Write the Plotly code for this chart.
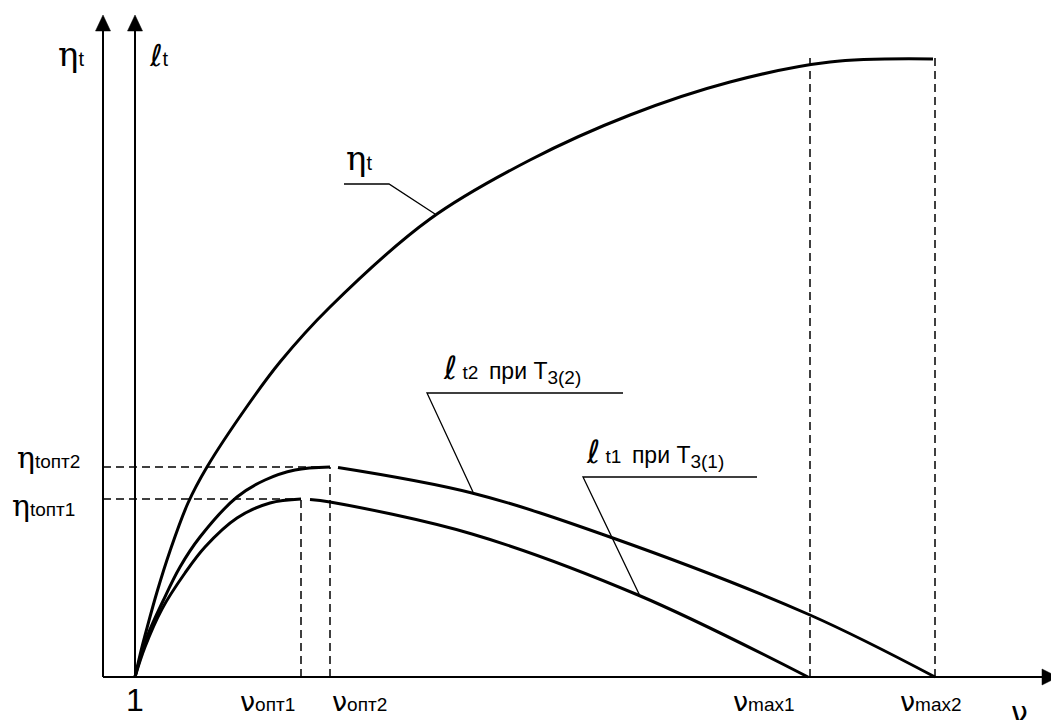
import plotly.graph_objects as go

# ---------------- data ----------------
v_eta = [1.00, 1.05, 1.12, 1.22, 1.35, 1.53, 1.72, 2.13, 2.45, 2.95, 3.95, 4.95, 5.95, 6.95, 7.95, 8.98]
eta_t = [0.00, 0.22, 0.49, 0.85, 1.26, 1.74, 2.10, 2.72, 3.15, 3.70, 4.58, 5.17, 5.62, 5.95, 6.15, 6.18]

v_l2 = [1.00, 1.12, 1.28, 1.45, 1.65, 2.02, 2.30, 2.60, 2.95, None, 3.03, 4.37, 5.75, 7.75, 9.00]
l_t2 = [0.00, 0.40, 0.76, 1.10, 1.40, 1.80, 1.97, 2.07, 2.10, None, 2.095, 1.84, 1.40, 0.62, 0.00]

v_l1 = [1.00, 1.10, 1.27, 1.50, 1.70, 2.02, 2.35, 2.66, None, 2.75, 2.95, 4.37, 6.03, 7.73]
l_t1 = [0.00, 0.30, 0.68, 1.04, 1.30, 1.59, 1.74, 1.78, None, 1.775, 1.75, 1.43, 0.82, 0.00]

v_opt = [2.66, 2.95]          # ν опт1, ν опт2
eta_opt = [1.78, 2.10]        # η t опт1, η t опт2
v_max = [7.75, 9.00]          # ν max1, ν max2
v_one = 1.0

NU = "<span style='font-family:DejaVu Sans;font-size:27px'>ν</span>"
opt_tick_labels = [NU + "опт1", NU + "опт2"]
max_tick_labels = [NU + "max1", NU + "max2"]
ETA_S = "<span style='font-family:DejaVu Serif;font-size:30px'>η</span>"
eta_opt_labels = [ETA_S + "tопт1", ETA_S + "tопт2"]

# ---------------- layout geometry ----------------
W, H = 1051, 720
X0, XS = 135, 100   # pixel of ν=1, pixels per unit
Y0, YS = 677, 100   # pixel of 0, pixels per unit


def dx(px):
    return 1 + (px - X0) / XS


def dy(py):
    return (Y0 - py) / YS


eta_axis_v = dx(103)
dash_top = dy(53)

BLACK = "#000000"
fig = go.Figure()

curve = dict(color=BLACK, width=3, shape="spline", smoothing=1.0)
fig.add_trace(go.Scatter(x=v_eta, y=eta_t, mode="lines", line=curve, hoverinfo="skip"))
fig.add_trace(go.Scatter(x=v_l2, y=l_t2, mode="lines", line=curve, connectgaps=False, hoverinfo="skip"))
fig.add_trace(go.Scatter(x=v_l1, y=l_t1, mode="lines", line=curve, connectgaps=False, hoverinfo="skip"))

dash = dict(color=BLACK, width=1.5, dash="8px,5px")
for v, e in zip(v_opt, eta_opt):
    fig.add_trace(go.Scatter(x=[eta_axis_v, v], y=[e, e], mode="lines", line=dash, hoverinfo="skip"))
    fig.add_trace(go.Scatter(x=[v, v], y=[0, e], mode="lines", line=dash, hoverinfo="skip"))
for v in v_max:
    fig.add_trace(go.Scatter(x=[v, v], y=[0, dash_top], mode="lines", line=dash, hoverinfo="skip"))

shapes = []
ax_line = dict(color=BLACK, width=2)
for axv in [eta_axis_v, v_one]:
    shapes.append(dict(type="line", xref="x", yref="y", x0=axv, x1=axv, y0=0, y1=dy(30), line=ax_line))
    hw = 7.5 / XS
    shapes.append(dict(type="path", xref="x", yref="y",
                       path=f"M {axv-hw},{dy(31)} L {axv+hw},{dy(31)} L {axv},{dy(15)} Z",
                       fillcolor=BLACK, line=dict(color=BLACK, width=0.5)))
shapes.append(dict(type="line", xref="x", yref="y", x0=eta_axis_v, x1=dx(1044), y0=0, y1=0, line=ax_line))
shapes.append(dict(type="path", xref="x", yref="y",
                   path=f"M {dx(1042)},{dy(669)} L {dx(1042)},{dy(685)} L {dx(1058)},{dy(677)} Z",
                   fillcolor=BLACK, line=dict(color=BLACK, width=0.5)))

lead = dict(color=BLACK, width=1.3)
for pts in [[(344, 184), (389, 184), (435, 214)],
            [(623, 393), (427, 393), (473, 492)],
            [(757, 477), (583, 477), (640, 596)]]:
    path = "M " + " L ".join(f"{dx(a)},{dy(b)}" for a, b in pts)
    shapes.append(dict(type="path", xref="x", yref="y", path=path, line=lead))

ann = []
SANS = "Liberation Sans"


def label(px, py, text, size, xanchor="left"):
    ann.append(dict(x=px / W, y=1 - py / H, xref="paper", yref="paper", text=text, showarrow=False,
                    xanchor=xanchor, yanchor="middle", font=dict(family=SANS, size=size, color=BLACK)))


ETA_L = "<span style='font-family:DejaVu Serif;font-size:34px'>η</span>"
ELL = "<span style='font-family:DejaVu Sans;font-size:30px'><i>ℓ</i></span>"
ELL2 = "<span style='font-family:DejaVu Sans;font-size:32px'><i>ℓ</i></span>"
SUB = "<sub><span style='font-size:19px'>{}</span></sub>"
label(56, 54, ETA_L + "t", 20)
label(147, 56, ELL + "t", 20)
label(1019, 712, "<span style='font-family:DejaVu Sans'>ν</span>", 30, xanchor="center")
label(344, 158, ETA_L + "t", 20)
label(441, 368, ELL2 + "<span style='font-size:19px'> t2  </span>при Т" + SUB.format("3(2)"), 23)
label(584, 452, ELL2 + "<span style='font-size:19px'> t1  </span>при Т" + SUB.format("3(1)"), 23)

for e, txt, lx, ys in zip(eta_opt, eta_opt_labels, [10, 15], [-6, 10]):
    ann.append(dict(x=lx / W, y=e, xref="paper", yref="y", text=txt, showarrow=False, yshift=ys,
                    xanchor="left", yanchor="middle", font=dict(family=SANS, size=19, color=BLACK)))

ann.append(dict(x=v_one, y=1 - 700 / H, xref="x", yref="paper", text="1", showarrow=False,
                xanchor="center", yanchor="middle", font=dict(family=SANS, size=32, color=BLACK)))
for v, txt, xa, xs in zip(v_opt + v_max, opt_tick_labels + max_tick_labels,
                          ["right", "left", "right", "center"], [-4, 0, -13, -4]):
    ann.append(dict(x=v, y=1 - 701 / H, xref="x", yref="paper", text=txt, showarrow=False,
                    xanchor=xa, xshift=xs, yanchor="middle", font=dict(family=SANS, size=19, color=BLACK)))

fig.update_layout(
    width=W, height=H, margin=dict(l=0, r=0, t=0, b=0),
    paper_bgcolor="white", plot_bgcolor="white", showlegend=False,
    xaxis=dict(range=[dx(0), dx(W)], visible=False, fixedrange=True),
    yaxis=dict(range=[dy(H), dy(0)], visible=False, fixedrange=True),
    shapes=shapes, annotations=ann,
)
fig.write_html("out.html", config={"displayModeBar": False},
               post_script="document.body.style.margin='0';document.body.style.overflow='hidden';")
